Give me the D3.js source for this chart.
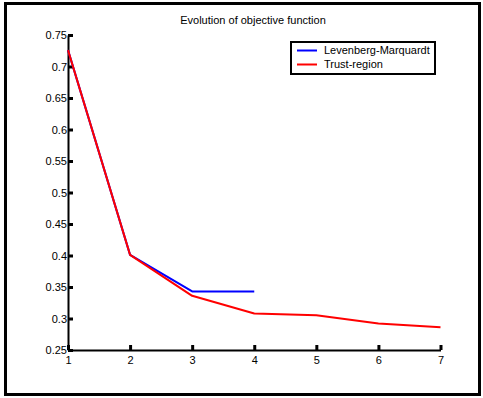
<!DOCTYPE html>
<html>
<head>
<meta charset="utf-8">
<script src="https://cdn.jsdelivr.net/npm/d3@7"></script>
<style>
  html, body { margin: 0; padding: 0; background: #fff; }
  svg { display: block; }
  text { font-family: "Liberation Sans", Arial, sans-serif; fill: #000; }
</style>
</head>
<body>
<svg id="chart" width="483" height="398"></svg>
<script>
// Iteration index and objective value for each solver
const iterLM = [1, 2, 3, 4];
const valuesLM = [0.726, 0.401, 0.343, 0.343];
const iterTR = [1, 2, 3, 4, 5, 6, 7];
const valuesTR = [0.726, 0.401, 0.336, 0.308, 0.305, 0.292, 0.286];
const xTicks = [1, 2, 3, 4, 5, 6, 7];
const yTicks = [0.25, 0.3, 0.35, 0.4, 0.45, 0.5, 0.55, 0.6, 0.65, 0.7, 0.75];
const seriesNames = ["Levenberg-Marquardt", "Trust-region"];
const seriesColors = ["#0000ff", "#ff0000"];

const svg = d3.select("#chart");

// Outer frame
svg.append("rect")
  .attr("x", 5.5).attr("y", 3.5)
  .attr("width", 474).attr("height", 391)
  .attr("fill", "none").attr("stroke", "#000").attr("stroke-width", 3);

const x = d3.scaleLinear().domain([1, 7]).range([68, 440.5]);
const y = d3.scaleLinear().domain([0.25, 0.75]).range([350, 35]);

// Title
svg.append("text")
  .attr("x", 253).attr("y", 24)
  .attr("text-anchor", "middle")
  .attr("font-size", 11)
  .text("Evolution of objective function");

// Axes
const yAxis = svg.append("g")
  .attr("transform", `translate(${x(1)},0)`)
  .call(d3.axisLeft(y).tickValues(yTicks).tickFormat(d => String(d)).tickSize(-5).tickPadding(1).tickSizeOuter(0));
const xAxis = svg.append("g")
  .attr("transform", `translate(0,${y(0.25)})`)
  .call(d3.axisBottom(x).tickValues(xTicks).tickFormat(d3.format("d")).tickSize(-5).tickPadding(6).tickSizeOuter(0));

[yAxis, xAxis].forEach(g => {
  g.select(".domain").attr("stroke", "#000").attr("stroke-width", 2);
  g.selectAll(".tick line").attr("stroke", "#000").attr("stroke-width", 3);
  g.selectAll(".tick text")
    .attr("font-size", 11)
    .style("font-family", "'Liberation Sans', Arial, sans-serif")
    .attr("fill", "#000");
});
yAxis.selectAll(".tick text").attr("dy", "0.35em");
xAxis.selectAll(".tick text").attr("dy", "0.72em");

// Series lines
const line = d3.line().x(d => x(d[0])).y(d => y(d[1]));
const seriesData = [
  d3.zip(iterLM, valuesLM),
  d3.zip(iterTR, valuesTR)
];
seriesData.forEach((data, i) => {
  svg.append("path")
    .datum(data)
    .attr("d", line)
    .attr("fill", "none")
    .attr("stroke", seriesColors[i])
    .attr("stroke-width", 2)
    .attr("stroke-linejoin", "round");
});

// Legend
const legend = svg.append("g");
legend.append("rect")
  .attr("x", 291).attr("y", 42)
  .attr("width", 144).attr("height", 32)
  .attr("fill", "#fff").attr("stroke", "#000").attr("stroke-width", 2);
seriesNames.forEach((name, i) => {
  const ly = 50.5 + i * 14;
  legend.append("line")
    .attr("x1", 297).attr("x2", 317)
    .attr("y1", ly).attr("y2", ly)
    .attr("stroke", seriesColors[i]).attr("stroke-width", 2);
  legend.append("text")
    .attr("x", 324).attr("y", ly)
    .attr("dy", "0.35em")
    .attr("font-size", 11)
    .text(name);
});
</script>
</body>
</html>
